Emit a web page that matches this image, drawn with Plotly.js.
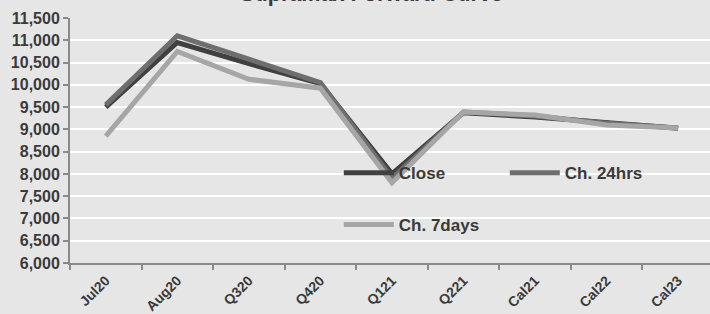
<!DOCTYPE html>
<html>
<head>
<meta charset="utf-8">
<script src="https://cdn.plot.ly/plotly-3.0.1.min.js"></script>
<style>
html,body{margin:0;padding:0;background:#e6e6e6;overflow:hidden;}
#chart{width:710px;height:314px;}
</style>
</head>
<body>
<div id="chart"></div>
<script>
var categories = ['Jul20','Aug20','Q320','Q420','Q121','Q221','Cal21','Cal22','Cal23'];
var closeVals = [9500, 10950, 10475, 10025, 8000, 9375, 9275, 9150, 9025];
var ch24Vals  = [9550, 11100, 10575, 10050, 7900, 9390, 9300, 9140, 9030];
var ch7Vals   = [8850, 10750, 10125, 9925, 7800, 9390, 9320, 9100, 9030];
var seriesNames = ['Close', 'Ch. 24hrs', 'Ch. 7days'];
var chartTitle = 'Supramax Forward Curve';

var traces = [
  {x: categories, y: closeVals, name: seriesNames[0], type: 'scatter', mode: 'lines',
   line: {color: '#404040', width: 5}, legend: 'legend'},
  {x: categories, y: ch24Vals, name: seriesNames[1], type: 'scatter', mode: 'lines',
   line: {color: '#6e6e6e', width: 5}, legend: 'legend'},
  {x: categories, y: ch7Vals, name: seriesNames[2], type: 'scatter', mode: 'lines',
   line: {color: '#a6a6a6', width: 5}, legend: 'legend2'}
];

var legFont = {family: 'Liberation Sans, Arial, sans-serif', size: 17, color: '#3a3a3a', weight: 'bold'};

var layout = {
  width: 710, height: 314,
  margin: {l: 70, r: 0, t: 18, b: 51},
  paper_bgcolor: '#e6e6e6',
  plot_bgcolor: '#e6e6e6',
  title: {
    text: chartTitle,
    font: {family: 'Liberation Sans, Arial, sans-serif', size: 21.6, color: '#3a3a3a', weight: 'bold'},
    x: 371.5/710, xanchor: 'center', xref: 'container',
    y: 1 - 1/314, yanchor: 'bottom', yref: 'container', pad: {t:0,b:0,l:0,r:0}
  },
  xaxis: {
    type: 'category',
    range: [-0.5, 8.445],
    tickson: 'boundaries',
    ticks: 'outside', ticklen: 5, tickwidth: 2, tickcolor: '#8a8a8a',
    showline: true, linecolor: '#8a8a8a', linewidth: 2,
    showgrid: false,
    tickangle: -45,
    ticklabelstandoff: 2,
    tickfont: {family: 'Liberation Sans, Arial, sans-serif', size: 14, color: '#3a3a3a', weight: 'bold'},
    fixedrange: true
  },
  yaxis: {
    range: [6000, 11500],
    dtick: 500, tick0: 6000,
    tickformat: ',d',
    ticks: 'outside', ticklen: 5, tickwidth: 2, tickcolor: '#8a8a8a',
    showline: true, linecolor: '#8a8a8a', linewidth: 2,
    showgrid: true, gridcolor: '#ffffff', gridwidth: 2,
    zeroline: false,
    tickfont: {family: 'Liberation Sans, Arial, sans-serif', size: 16, color: '#3a3a3a', weight: 'bold'},
    fixedrange: true
  },
  showlegend: true,
  legend: {
    orientation: 'h', x: 0.42, xanchor: 'left', y: 0.367, yanchor: 'middle',
    bgcolor: 'rgba(0,0,0,0)', font: legFont, itemwidth: 50, entrywidth: 101, entrywidthmode: 'pixels',
    itemclick: false, itemdoubleclick: false, traceorder: 'normal'
  },
  legend2: {
    orientation: 'h', x: 0.42, xanchor: 'left', y: 0.155, yanchor: 'middle',
    bgcolor: 'rgba(0,0,0,0)', font: legFont, itemwidth: 50,
    itemclick: false, itemdoubleclick: false
  }
};

Plotly.newPlot('chart', traces, layout, {displayModeBar: false, staticPlot: true});
</script>
</body>
</html>
